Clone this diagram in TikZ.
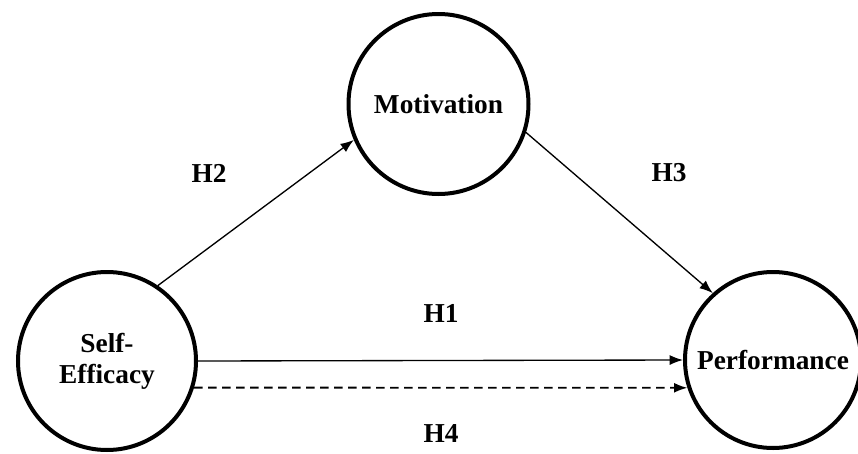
\documentclass[tikz,border=0pt]{standalone}
\usepackage{fontspec}
\setmainfont{Liberation Serif}
\usepackage{tikz}
\usetikzlibrary{arrows.meta}

\begin{document}
\begin{tikzpicture}[x=0.75pt, y=-0.75pt,
		construct/.style={draw, circle, line width=3pt, inner sep=0pt, align=center,
			font=\fontsize{20.5}{23}\selectfont\bfseries},
		hyp/.style={font=\fontsize{20.5}{23}\selectfont\bfseries},
		path/.style={line width=1pt, -{Latex[length=10pt, width=7.5pt]}}]
			%%%%% START %%%%%
			
			\useasboundingbox (0, 0) rectangle (858, 454);
			
			\node[construct, minimum size=133.5pt] (eff) at (107, 361) {Self-\\Efficacy};
			\node[construct, minimum size=135pt] (mot) at (438.5, 104) {Motivation};
			\node[construct, minimum size=132pt] (perf) at (773, 360) {Performance};
			
			\draw[path] (eff.56) -- (mot.203);
			\draw[path] (mot.-18) -- (perf.132);
			\draw[path] (eff.east) -- (perf.west);
			\draw[path, line width=1.4pt, dash pattern=on 6.5pt off 4pt] (eff.-17) -- (perf.198);
			
			\node[hyp] (h2) at (209, 173) {H2};
			\node[hyp] (h3) at (669, 173) {H3};
			\node[hyp] (h1) at (441, 313) {H1};
			\node[hyp] (h4) at (441, 433) {H4};
			
			%%%%% END %%%%%
\end{tikzpicture}
\end{document}
